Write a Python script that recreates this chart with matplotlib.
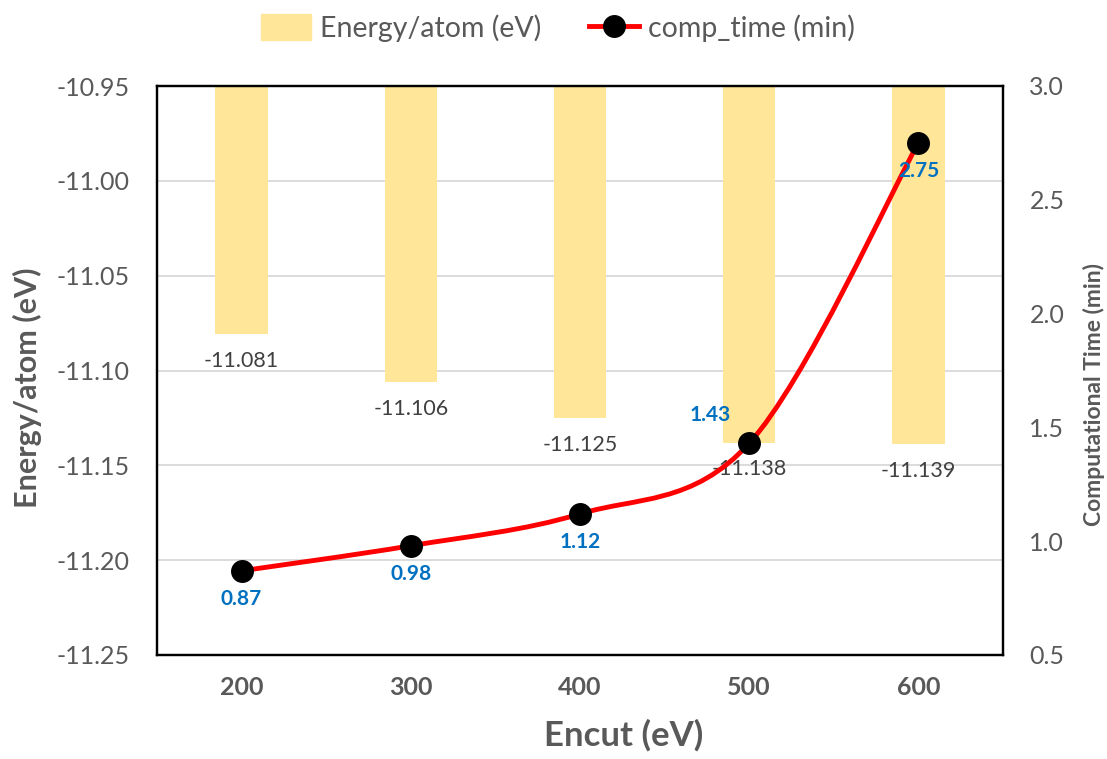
import numpy as np
import matplotlib.pyplot as plt
from matplotlib.path import Path
from matplotlib.patches import PathPatch, Patch
from matplotlib.lines import Line2D

plt.rcParams['font.family'] = ['Lato', 'DejaVu Sans']

encut = ['200', '300', '400', '500', '600']
energy = [-11.081, -11.106, -11.125, -11.138, -11.139]
comp_time = [0.87, 0.98, 1.12, 1.43, 2.75]

GRAY = '#595959'
BAR = '#FFE699'
BLUE = '#0070C0'


def smooth_path(x, y):
    # excel-like smoothed line: cubic bezier segments, catmull-rom style control points
    x = np.asarray(x, float)
    y = np.asarray(y, float)
    verts = [(x[0], y[0])]
    codes = [Path.MOVETO]
    n = len(x)
    for i in range(n - 1):
        x0, y0 = (x[i - 1], y[i - 1]) if i > 0 else (x[i], y[i])
        x3, y3 = (x[i + 2], y[i + 2]) if i + 2 < n else (x[i + 1], y[i + 1])
        c1 = (x[i] + (x[i + 1] - x0) / 6, y[i] + (y[i + 1] - y0) / 6)
        c2 = (x[i + 1] - (x3 - x[i]) / 6, y[i + 1] - (y3 - y[i]) / 6)
        verts += [c1, c2, (x[i + 1], y[i + 1])]
        codes += [Path.CURVE4] * 3
    return Path(verts, codes)


fig = plt.figure(figsize=(11.07, 7.59), dpi=100)
ax = fig.add_axes([157 / 1107, 1 - 655 / 759, 846 / 1107, 569 / 759])
ax2 = ax.twinx()

pos = np.arange(len(encut))
top = -10.95
ax.bar(pos, np.array(energy) - top, bottom=top, width=0.31, color=BAR, zorder=2)
for p, e in zip(pos, energy):
    ax.annotate('%.3f' % e, (p, e), xytext=(0, -12), textcoords='offset points',
                ha='center', va='top', fontsize=15.5, color='#404040', zorder=5)

ax.set_xlim(-0.5, 4.5)
ax.set_ylim(-11.25, -10.95)
ax.set_yticks(np.arange(-11.25, -10.949, 0.05))
ax.set_yticklabels(['%.2f' % v for v in np.arange(-11.25, -10.949, 0.05)])
ax.set_xticks(pos)
ax.set_xticklabels(encut, fontweight='bold')
ax.grid(axis='y', color='#D9D9D9', lw=1.3, zorder=0)
ax.set_axisbelow(True)

ax2.set_ylim(0.5, 3.0)
ax2.set_yticks(np.arange(0.5, 3.01, 0.5))
ax2.set_yticklabels(['%.1f' % v for v in np.arange(0.5, 3.01, 0.5)])

ax2.add_patch(PathPatch(smooth_path(pos, comp_time), fill=False, ec='#FF0000', lw=3.5, zorder=3))
ax2.plot(pos, comp_time, ls='', marker='o', ms=15.5, color='black', zorder=4)

offs = [(0, -13), (0, -13), (0, -13), (-28, 13), (0, -13)]
for p, t, o in zip(pos, comp_time, offs):
    ax2.annotate('%.2f' % t, (p, t), xytext=o, textcoords='offset points',
                 ha='center', va='top' if o[1] < 0 else 'bottom',
                 fontsize=15, fontweight='bold', color=BLUE, zorder=5)

for a in (ax, ax2):
    a.tick_params(length=0, labelsize=18, labelcolor=GRAY)
    for s in a.spines.values():
        s.set_color('black')
        s.set_linewidth(1.6)
ax.tick_params(axis='y', pad=20)
ax.tick_params(axis='x', pad=15)
ax2.tick_params(axis='y', pad=19)

ax.set_xlabel('Encut (eV)', fontsize=25, fontweight='bold', color=GRAY)
ax.xaxis.set_label_coords((624 - 157) / 846, -64 / 569)
ax.set_ylabel('Energy/atom (eV)', fontsize=22, fontweight='bold', color=GRAY)
ax.yaxis.set_label_coords(-115 / 846, (655 - 388) / 569)
ax2.set_ylabel('Computational Time (min)', fontsize=16.5, fontweight='bold', color=GRAY)
ax2.yaxis.set_label_coords(1 + 80 / 846, (655 - 394) / 569)

handles = [Patch(color=BAR),
           Line2D([], [], color='#FF0000', lw=3.5, marker='o', ms=15.5, mfc='black', mec='black')]
fig.legend(handles, ['Energy/atom (eV)', 'comp_time (min)'], loc='center',
           bbox_to_anchor=(558 / 1107, 1 - 28 / 759), ncol=2, frameon=False,
           fontsize=20.5, labelcolor=GRAY, handlelength=1.75, handleheight=1.0,
           columnspacing=1.7, handletextpad=0.3)

fig.savefig('out.png', dpi=100)
